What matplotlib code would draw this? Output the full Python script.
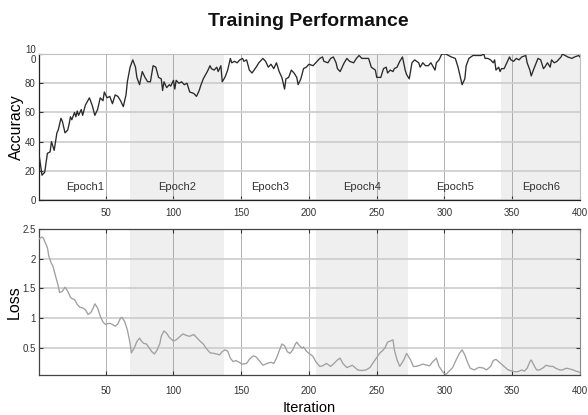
import matplotlib
matplotlib.use("Agg")
import matplotlib.pyplot as plt

plt.rcParams['font.family'] = ['Liberation Sans', 'DejaVu Sans']

# ---------------- data ----------------
acc_iter = [1, 3, 5, 7, 9, 10, 12, 14, 15, 17, 18, 20, 22, 23, 24, 25, 27, 28, 29, 30,
            32, 33, 35, 38, 40, 42, 44, 46, 48, 49, 51, 53, 55, 57, 59, 61, 63, 65, 66, 68,
            70, 72, 73, 75, 77, 79, 81, 83, 85, 87, 89, 91, 92, 93, 95, 97, 98, 100, 101, 102,
            104, 106, 108, 110, 112, 115, 117, 119, 120, 122, 125, 127, 128, 130, 132, 133, 135, 136, 138, 140,
            142, 143, 145, 147, 149, 151, 152, 154, 156, 158, 161, 163, 166, 168, 170, 172, 174, 176, 178, 180,
            182, 183, 185, 187, 189, 191, 192, 194, 196, 198, 200, 203, 205, 208, 210, 211, 214, 216, 218, 220,
            221, 223, 226, 228, 230, 233, 235, 237, 239, 241, 244, 246, 249, 250, 253, 255, 257, 258, 260, 262,
            263, 265, 267, 269, 271, 272, 274, 276, 278, 281, 282, 284, 286, 288, 290, 293, 294, 296, 298, 301,
            303, 305, 308, 310, 312, 313, 315, 316, 318, 321, 324, 327, 329, 330, 332, 334, 336, 337, 338, 340,
            341, 342, 344, 346, 348, 349, 351, 353, 355, 357, 360, 361, 363, 364, 366, 369, 371, 373, 374, 376,
            378, 379, 381, 383, 386, 387, 389, 391, 394, 396, 399, 400]
acc_vals = [30, 17, 19, 32, 33, 40, 34, 46, 48, 56, 54, 46, 48, 52, 57, 55, 60, 57, 61, 58,
            62, 58, 65, 70, 65, 58, 62, 70, 68, 74, 70, 71, 66, 72, 71, 68, 64, 72, 81, 91,
            96, 91, 84, 79, 88, 84, 81, 81, 92, 91, 84, 83, 75, 81, 77, 79, 78, 82, 76, 82,
            80, 81, 79, 80, 74, 73, 71, 75, 78, 83, 88, 92, 90, 89, 91, 88, 92, 81, 84, 89,
            97, 94, 95, 94, 96, 97, 95, 96, 89, 87, 91, 94, 97, 95, 91, 93, 90, 94, 88, 84,
            76, 83, 84, 89, 87, 84, 79, 83, 90, 91, 93, 92, 94, 97, 98, 95, 94, 97, 98, 94,
            90, 88, 94, 97, 95, 94, 97, 99, 97, 97, 97, 91, 89, 84, 84, 90, 91, 87, 89, 88,
            90, 91, 95, 98, 89, 86, 83, 94, 96, 94, 91, 94, 92, 92, 94, 89, 94, 96, 100, 100,
            99, 98, 97, 91, 83, 79, 83, 92, 97, 99, 99, 99, 100, 97, 97, 96, 94, 96, 89, 91,
            88, 90, 90, 94, 98, 96, 95, 97, 96, 98, 99, 94, 89, 85, 90, 97, 96, 90, 91, 94,
            91, 96, 94, 95, 98, 100, 99, 98, 97, 98, 99, 98]

loss_iter = [1, 3, 4, 7, 8, 10, 11, 13, 15, 16, 18, 20, 22, 24, 25, 27, 29, 31, 33, 35,
             37, 39, 41, 42, 44, 46, 48, 50, 51, 53, 55, 57, 59, 61, 62, 64, 66, 68, 69, 71,
             73, 75, 76, 78, 80, 82, 84, 86, 88, 90, 91, 93, 95, 97, 99, 100, 102, 104, 107, 110,
             112, 115, 117, 120, 122, 124, 127, 130, 132, 134, 136, 138, 140, 142, 144, 146, 149, 151, 154, 156,
             159, 161, 164, 166, 169, 172, 174, 176, 178, 180, 182, 184, 186, 188, 190, 191, 193, 195, 196, 198,
             200, 203, 205, 208, 210, 213, 216, 218, 221, 223, 225, 228, 230, 232, 234, 236, 239, 242, 245, 247,
             250, 252, 254, 256, 258, 260, 262, 263, 265, 267, 270, 272, 275, 277, 279, 282, 284, 287, 289, 291,
             294, 296, 299, 301, 303, 306, 308, 311, 313, 315, 317, 319, 322, 324, 326, 329, 331, 334, 336, 338,
             340, 342, 345, 347, 350, 352, 354, 357, 359, 361, 363, 364, 366, 368, 370, 373, 375, 378, 380, 382,
             385, 387, 390, 392, 395, 397, 400]
loss_vals = [2.34, 2.37, 2.35, 2.19, 2.05, 1.92, 1.88, 1.71, 1.54, 1.43, 1.45, 1.52, 1.45, 1.35, 1.33, 1.31, 1.23, 1.18, 1.17, 1.14,
             1.06, 1.09, 1.18, 1.24, 1.17, 1.03, 0.93, 0.89, 0.90, 0.91, 0.89, 0.86, 0.90, 1.00, 1.01, 0.94, 0.80, 0.57, 0.41, 0.49,
             0.60, 0.66, 0.62, 0.57, 0.56, 0.50, 0.43, 0.39, 0.46, 0.57, 0.69, 0.78, 0.74, 0.67, 0.63, 0.61, 0.63, 0.67, 0.73, 0.70,
             0.69, 0.72, 0.67, 0.60, 0.56, 0.49, 0.41, 0.40, 0.39, 0.375, 0.43, 0.46, 0.44, 0.32, 0.26, 0.28, 0.245, 0.22, 0.23, 0.30,
             0.36, 0.34, 0.26, 0.20, 0.23, 0.25, 0.23, 0.32, 0.44, 0.56, 0.53, 0.43, 0.40, 0.46, 0.56, 0.59, 0.53, 0.49, 0.51, 0.44,
             0.40, 0.35, 0.26, 0.18, 0.19, 0.23, 0.18, 0.22, 0.29, 0.32, 0.23, 0.16, 0.18, 0.20, 0.16, 0.12, 0.11, 0.12, 0.16, 0.23,
             0.33, 0.40, 0.44, 0.49, 0.59, 0.61, 0.63, 0.46, 0.29, 0.18, 0.29, 0.40, 0.29, 0.18, 0.18, 0.20, 0.22, 0.20, 0.19, 0.25,
             0.32, 0.18, 0.08, 0.04, 0.09, 0.16, 0.26, 0.40, 0.46, 0.375, 0.25, 0.15, 0.12, 0.15, 0.165, 0.15, 0.12, 0.18, 0.28, 0.30,
             0.26, 0.22, 0.16, 0.12, 0.10, 0.09, 0.09, 0.12, 0.10, 0.15, 0.26, 0.29, 0.20, 0.12, 0.12, 0.16, 0.20, 0.18, 0.18, 0.15,
             0.12, 0.12, 0.15, 0.14, 0.12, 0.10, 0.08]

epoch_bounds = [1, 68, 137, 205, 273, 342, 400]
epoch_labels = ["Epoch1", "Epoch2", "Epoch3", "Epoch4", "Epoch5", "Epoch6"]
x_ticks = [50, 100, 150, 200, 250, 300, 350, 400]
acc_ticks = [0, 20, 40, 60, 80, 100]
acc_tick_labels = ["0", "20", "40", "60", "80", "10\n0"]
loss_ticks = [0.5, 1, 1.5, 2, 2.5]
loss_tick_labels = ["0.5", "1", "1.5", "2", "2.5"]

# ---------------- figure ----------------
fig = plt.figure(figsize=(5.88, 4.15), dpi=100)
ax1 = fig.add_axes([0.0668, 0.518, 0.9196, 0.3518])
ax2 = fig.add_axes([0.0668, 0.0957, 0.9196, 0.3518])

shade = '#efefef'
hgrid = '#cccccc'
vgrid = '#8c8c8c'

def style(ax):
    for i in range(len(epoch_bounds) - 1):
        if i % 2 == 1:
            ax.axvspan(epoch_bounds[i], epoch_bounds[i + 1], color=shade, lw=0, zorder=0)
    ax.set_xlim(1, 400)
    ax.set_xticks(x_ticks)
    ax.set_xticklabels([str(t) for t in x_ticks])
    ax.grid(True, axis='y', color=hgrid, lw=1.2, zorder=1)
    ax.grid(True, axis='x', color=vgrid, lw=0.6, alpha=0.8, zorder=1)
    ax.set_axisbelow(True)
    ax.tick_params(direction='in', length=3, width=0.8, labelsize=7,
                   colors='#333333')
    ax.tick_params(axis='y', pad=2.5)
    ax.set_facecolor('white')

style(ax1)
style(ax2)

# accuracy
ax1.plot(acc_iter, acc_vals, color='#2a2a2a', lw=0.95, zorder=3)
ax1.set_ylim(0, 100)
ax1.set_yticks(acc_ticks)
ax1.set_yticklabels(acc_tick_labels, linespacing=0.95)
for lab in ax1.get_yticklabels():
    lab.set_horizontalalignment('right')
for i, lab in enumerate(epoch_labels):
    mid = (epoch_bounds[i] + epoch_bounds[i + 1]) / 2
    ax1.text(mid, 9, lab, ha='center', va='center', fontsize=8, color='#333333', zorder=4)
ax1.set_ylabel('Accuracy', fontsize=11.5)
ax1.yaxis.set_label_coords(-0.028, 0.5)
for s in ['left', 'bottom']:
    ax1.spines[s].set_color('#222222')
    ax1.spines[s].set_linewidth(0.9)
for s in ['top', 'right']:
    ax1.spines[s].set_color('#c0c0c0')
    ax1.spines[s].set_linewidth(0.8)
ax1.tick_params(axis='x', pad=6)

# loss
ax2.plot(loss_iter, loss_vals, color='#a0a0a0', lw=0.95, zorder=3)
ax2.set_ylim(0.03, 2.5)
ax2.set_yticks(loss_ticks)
ax2.set_yticklabels(loss_tick_labels)
ax2.set_ylabel('Loss', fontsize=11.5)
ax2.yaxis.set_label_coords(-0.033, 0.5)
ax2.set_xlabel('Iteration', fontsize=10.5, labelpad=3)
ax2.tick_params(top=True, right=True)
ax2.tick_params(axis='x', pad=8)
for s in ['left', 'bottom', 'top']:
    ax2.spines[s].set_color('#444444')
    ax2.spines[s].set_linewidth(0.9)
ax2.spines['right'].set_color('#888888')

fig.text(0.525, 0.948, 'Training Performance', ha='center', va='center',
         fontsize=14, fontweight='bold', color='#111111')

fig.savefig('out.png', dpi=100)
